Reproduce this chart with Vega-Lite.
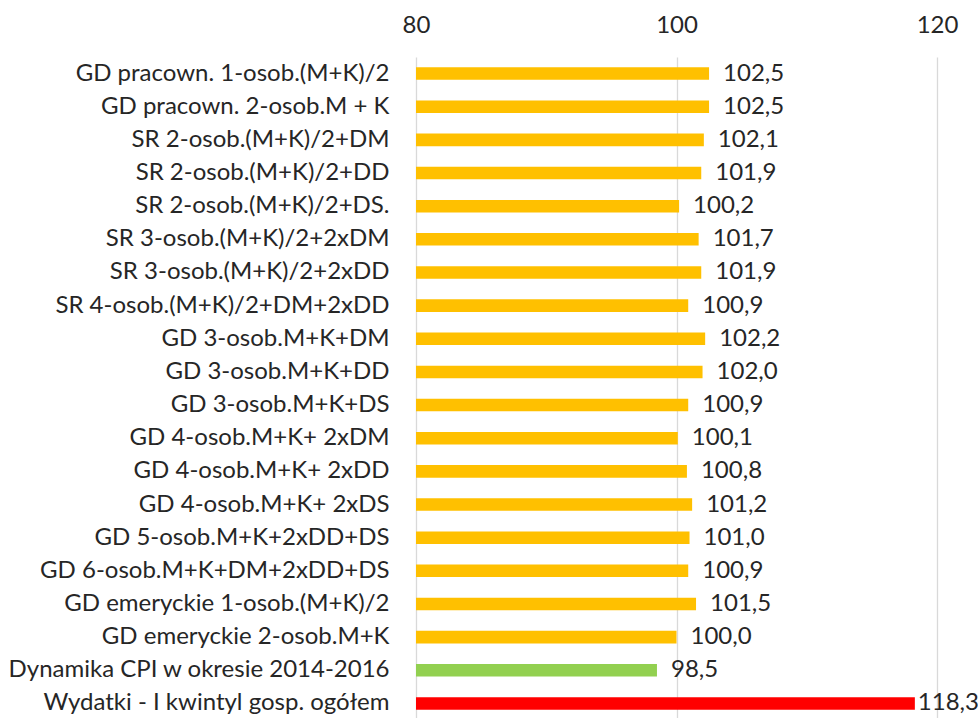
{
  "$schema": "https://vega.github.io/schema/vega-lite/v6.json",
  "autosize": "none",
  "width": 521,
  "height": 663,
  "padding": {"left": 416, "top": 57, "right": 41, "bottom": 0},
  "background": "white",
  "config": {
    "locale": {"number": {"decimal": ",", "thousands": " ", "grouping": [3], "currency": ["", " zł"]}},
    "view": {"stroke": null},
    "font": "Lato"
  },
  "data": {
    "values": [
      {"kategoria": "GD pracown. 1-osob.(M+K)/2", "wartosc": 102.5, "grupa": "gosp"},
      {"kategoria": "GD pracown. 2-osob.M + K", "wartosc": 102.5, "grupa": "gosp"},
      {"kategoria": "SR 2-osob.(M+K)/2+DM", "wartosc": 102.1, "grupa": "gosp"},
      {"kategoria": "SR 2-osob.(M+K)/2+DD", "wartosc": 101.9, "grupa": "gosp"},
      {"kategoria": "SR 2-osob.(M+K)/2+DS.", "wartosc": 100.2, "grupa": "gosp"},
      {"kategoria": "SR 3-osob.(M+K)/2+2xDM", "wartosc": 101.7, "grupa": "gosp"},
      {"kategoria": "SR 3-osob.(M+K)/2+2xDD", "wartosc": 101.9, "grupa": "gosp"},
      {"kategoria": "SR 4-osob.(M+K)/2+DM+2xDD", "wartosc": 100.9, "grupa": "gosp"},
      {"kategoria": "GD 3-osob.M+K+DM", "wartosc": 102.2, "grupa": "gosp"},
      {"kategoria": "GD 3-osob.M+K+DD", "wartosc": 102.0, "grupa": "gosp"},
      {"kategoria": "GD 3-osob.M+K+DS", "wartosc": 100.9, "grupa": "gosp"},
      {"kategoria": "GD 4-osob.M+K+ 2xDM", "wartosc": 100.1, "grupa": "gosp"},
      {"kategoria": "GD 4-osob.M+K+ 2xDD", "wartosc": 100.8, "grupa": "gosp"},
      {"kategoria": "GD 4-osob.M+K+ 2xDS", "wartosc": 101.2, "grupa": "gosp"},
      {"kategoria": "GD 5-osob.M+K+2xDD+DS", "wartosc": 101.0, "grupa": "gosp"},
      {"kategoria": "GD 6-osob.M+K+DM+2xDD+DS", "wartosc": 100.9, "grupa": "gosp"},
      {"kategoria": "GD emeryckie 1-osob.(M+K)/2", "wartosc": 101.5, "grupa": "gosp"},
      {"kategoria": "GD emeryckie 2-osob.M+K", "wartosc": 100.0, "grupa": "gosp"},
      {"kategoria": "Dynamika CPI w okresie 2014-2016", "wartosc": 98.5, "grupa": "cpi"},
      {"kategoria": "Wydatki - I kwintyl gosp. ogółem", "wartosc": 118.3, "grupa": "wyd"}
    ]
  },
  "encoding": {
    "y": {
      "field": "kategoria",
      "type": "nominal",
      "sort": null,
      "scale": {"paddingInner": 0.62, "paddingOuter": 0.31},
      "axis": {
        "title": null,
        "ticks": false,
        "domain": false,
        "labelFontSize": 24,
        "labelColor": "#262626",
        "labelPadding": 27,
        "labelLimit": 420
      }
    },
    "x": {
      "field": "wartosc",
      "type": "quantitative",
      "scale": {"domain": [80, 120], "zero": false, "nice": false},
      "axis": {
        "orient": "top",
        "title": null,
        "values": [80, 100, 120],
        "format": "d",
        "ticks": false,
        "domain": false,
        "grid": true,
        "gridColor": "#d9d9d9",
        "gridWidth": 1.3,
        "labelFlush": false,
        "labelFontSize": 24,
        "labelColor": "#262626",
        "labelPadding": 20
      }
    }
  },
  "layer": [
    {
      "mark": {"type": "bar"},
      "encoding": {
        "x2": {"datum": 80},
        "color": {
          "field": "grupa",
          "type": "nominal",
          "scale": {"domain": ["gosp", "cpi", "wyd"], "range": ["#FFC000", "#92D050", "#FF0000"]},
          "legend": null
        }
      }
    },
    {
      "transform": [{"filter": "datum.wartosc < 110"}],
      "mark": {"type": "text", "align": "left", "baseline": "middle", "dx": 14, "fontSize": 24, "color": "#262626"},
      "encoding": {
        "text": {"field": "wartosc", "type": "quantitative", "format": ".1f"}
      }
    },
    {
      "transform": [{"filter": "datum.wartosc >= 110"}],
      "mark": {"type": "text", "align": "left", "baseline": "middle", "dx": 3, "fontSize": 24, "color": "#262626"},
      "encoding": {
        "text": {"field": "wartosc", "type": "quantitative", "format": ".1f"}
      }
    }
  ]
}
